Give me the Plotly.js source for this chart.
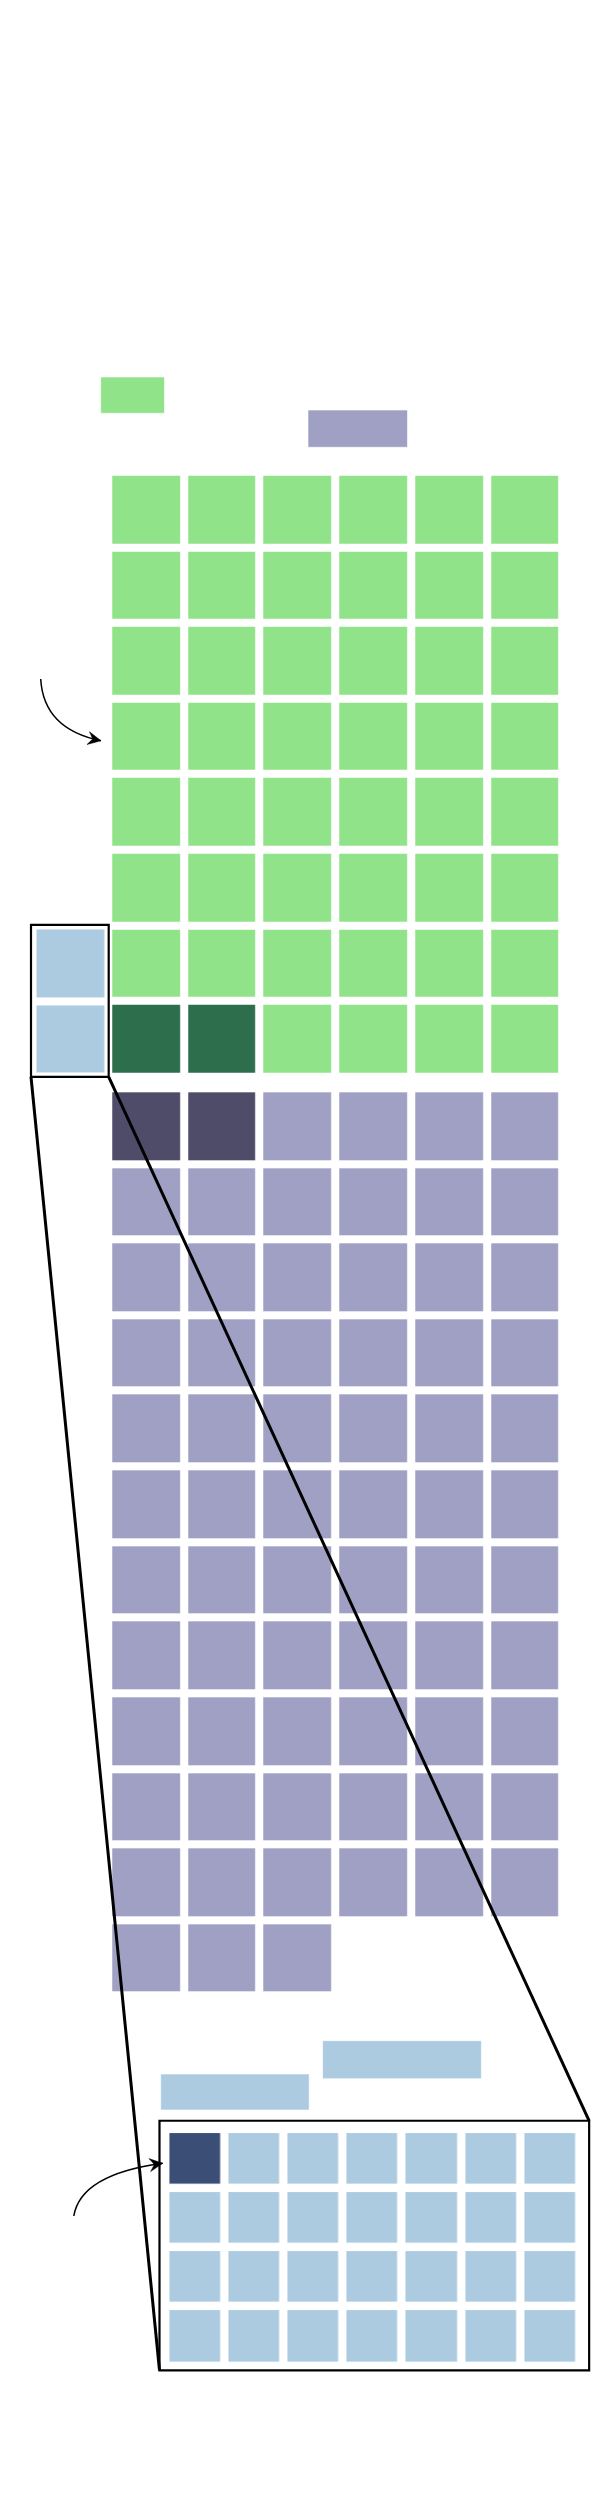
<!DOCTYPE html>
<html><head><meta charset="utf-8">
<script src="https://cdn.plot.ly/plotly-3.0.1.min.js"></script>
<style>html,body{margin:0;padding:0;background:#fff}</style>
</head><body>
<div id="chart" style="width:600px;height:2500px"></div>
<script>
// ---------------- data ----------------
const mainCols = 6;
const greenCounts = [46, 2];   // [regular, highlighted]
const purpleCounts = [67, 2];  // [regular, highlighted]
const blueCounts = [2];        // cells shown in the side column
const zoomCols = 7;
const zoomCounts = [27, 1];    // [regular, highlighted]

// ---------------- styles ----------------
const C = {
  green: '#90E388', greenDark: '#2D6E4C',
  purple: '#A0A0C4', purpleDark: '#4F4C6A',
  blue: '#ADCBE0', navy: '#3A4E76'
};

function buildGrid(counts, cols, fromBottom) {
  const reg = counts[0], hi = counts[1] || 0;
  const total = reg + hi;
  const rows = Math.ceil(total / cols);
  const z = [];
  for (let r = 0; r < rows; r++) { z.push(new Array(cols).fill(null)); }
  const seq = [];
  for (let i = 0; i < hi; i++) seq.push(1);
  for (let i = 0; i < reg; i++) seq.push(0);
  seq.forEach((v, k) => {
    let r = Math.floor(k / cols), c = k % cols;
    if (fromBottom) r = rows - 1 - r;
    z[r][c] = v;
  });
  return z;
}

const zGreen = buildGrid(greenCounts, mainCols, true);
const zPurple = buildGrid(purpleCounts, mainCols, false);
const zBlue = new Array(blueCounts[0]).fill(0).map(() => [0]);
const zZoom = buildGrid(zoomCounts, zoomCols, false);

// ---------------- geometry (pixels) ----------------
const W = 600, H = 2500;
const mainX0 = 108.2, mainPX = 75.7;     // px of value -0.5, pitch
const greenY0 = 471.7, rowP = 75.62;
const purpleY0 = 1088.3;
const zoomX0 = 165.4, zoomPX = 59.1;
const zoomY0 = 2129.05, zoomPY = 59.13;

const mainX = v => mainX0 + (v + 0.5) * mainPX;
const greenY = v => greenY0 + (v + 0.5) * rowP;
const zoomX = v => zoomX0 + (v + 0.5) * zoomPX;
const zoomY = v => zoomY0 + (v + 0.5) * zoomPY;
const pd = px => 1 - px / H;

const nG = zGreen.length, nP = zPurple.length, nZ = zZoom.length;

const scale2 = (a, b) => [[0, a], [1, b]];

const hm = (z, xa, ya, cs, xgap, ygap, x0, y0) => ({
  type: 'heatmap', z: z, x0: x0, dx: 1, y0: y0, dy: 1,
  xaxis: xa, yaxis: ya, colorscale: cs, zmin: 0, zmax: 1,
  showscale: false, xgap: xgap, ygap: ygap, hoverinfo: 'skip'
});

const traces = [
  hm(zGreen, 'x', 'y', scale2(C.green, C.greenDark), 8.1, 8, 0, 0),
  hm(zPurple, 'x', 'y2', scale2(C.purple, C.purpleDark), 8.1, 8, 0, 0),
  hm(zBlue, 'x', 'y', scale2(C.blue, C.blue), 8.1, 8, -1, nG - zBlue.length),
  hm(zZoom, 'x2', 'y3', scale2(C.blue, C.navy), 8.3, 8.4, 0, 0),
  {type: 'scatter', x: [], y: [], xaxis: 'x3', yaxis: 'y4', hoverinfo: 'skip', showlegend: false}
];

const hid = {visible: false, fixedrange: true};

// blue column box (px, from axis units)
const bL = mainX(-1.5) - 1.5, bR = mainX(-0.5) + 0.5;
const bT = greenY(nG - zBlue.length - 0.5) - 0.5, bB = greenY(nG - 0.5) + 0.3;
// zoom box (px, from axis units of x2/y3)
const zL = zoomX(-0.6), zR = zoomX(zoomCols - 0.33), zT = zoomY(-0.64), zB = zoomY(nZ - 0.42);

function stealth(tx, ty, dx, dy, L, Wd) {
  const n = Math.hypot(dx, dy); dx /= n; dy /= n;
  const nx = -dy, ny = dx;
  const p1 = [tx - L*dx + Wd*nx, ty - L*dy + Wd*ny];
  const p2 = [tx - 0.65*L*dx, ty - 0.65*L*dy];
  const p3 = [tx - L*dx - Wd*nx, ty - L*dy - Wd*ny];
  return `M ${tx} ${ty} L ${p1[0]} ${p1[1]} L ${p2[0]} ${p2[1]} L ${p3[0]} ${p3[1]} Z`;
}

const ov = {xref: 'x3', yref: 'y4'};
const labelBox = (x0, x1, y0, y1, col) => Object.assign({type: 'rect', x0, x1, y0, y1,
  fillcolor: col, line: {color: 'rgba(255,255,255,0.6)', width: 1}, layer: 'below'}, ov);

const arrows = [
  {s: [40.7, 679], c: [43.6, 729.2], e: [101, 740.7]},
  {s: [73.8, 2216], c: [80.8, 2174.4], e: [162.7, 2163.3]}
];

const shapes = [
  labelBox(100.7, 164.5, 377, 413.3, C.green),
  labelBox(308, 407.5, 410, 447.3, C.purple),
  labelBox(160.7, 309.2, 2074, 2110, C.blue),
  labelBox(322.6, 481.4, 2040.7, 2078.7, C.blue),
  Object.assign({type: 'rect', x0: bL, x1: bR, y0: bT, y1: bB, line: {color: '#000', width: 2.2}}, ov),
  Object.assign({type: 'rect', x0: zL, x1: zR, y0: zT, y1: zB, line: {color: '#000', width: 2.2}}, ov),
  Object.assign({type: 'line', x0: bL, y0: bB, x1: zL, y1: zB, line: {color: '#000', width: 3}}, ov),
  Object.assign({type: 'line', x0: bR, y0: bB, x1: zR, y1: zT, line: {color: '#000', width: 3}}, ov)
];
arrows.forEach(a => {
  shapes.push(Object.assign({type: 'path', path: `M ${a.s[0]} ${a.s[1]} Q ${a.c[0]} ${a.c[1]} ${a.e[0]} ${a.e[1]}`,
    line: {color: '#000', width: 1.5}}, ov));
  shapes.push(Object.assign({type: 'path', path: stealth(a.e[0], a.e[1], a.e[0]-a.c[0], a.e[1]-a.c[1], 13, 6.5),
    fillcolor: '#000', line: {color: '#000', width: 0.5}}, ov));
});

const layout = {
  width: W, height: H,
  margin: {l: 0, r: 0, t: 0, b: 0, pad: 0},
  paper_bgcolor: '#fff', plot_bgcolor: 'rgba(0,0,0,0)',
  showlegend: false,
  xaxis: Object.assign({domain: [0, 1], range: [-0.5 - mainX0 / mainPX, -0.5 + (W - mainX0) / mainPX], anchor: 'y'}, hid),
  yaxis: Object.assign({domain: [pd(greenY0 + nG * rowP), pd(greenY0)], range: [nG - 0.5, -0.5], anchor: 'x'}, hid),
  yaxis2: Object.assign({domain: [pd(purpleY0 + nP * rowP), pd(purpleY0)], range: [nP - 0.5, -0.5], anchor: 'x'}, hid),
  xaxis2: Object.assign({domain: [zoomX0 / W, (zoomX0 + zoomCols * zoomPX) / W], range: [-0.5, zoomCols - 0.5], anchor: 'y3'}, hid),
  yaxis3: Object.assign({domain: [pd(zoomY0 + nZ * zoomPY), pd(zoomY0)], range: [nZ - 0.5, -0.5], anchor: 'x2'}, hid),
  xaxis3: Object.assign({domain: [0, 1], range: [0, W], anchor: 'y4'}, hid),
  yaxis4: Object.assign({domain: [0, 1], range: [H, 0], anchor: 'x3'}, hid),
  shapes: shapes
};

Plotly.newPlot('chart', traces, layout, {staticPlot: true, displayModeBar: false});
</script>
</body></html>
